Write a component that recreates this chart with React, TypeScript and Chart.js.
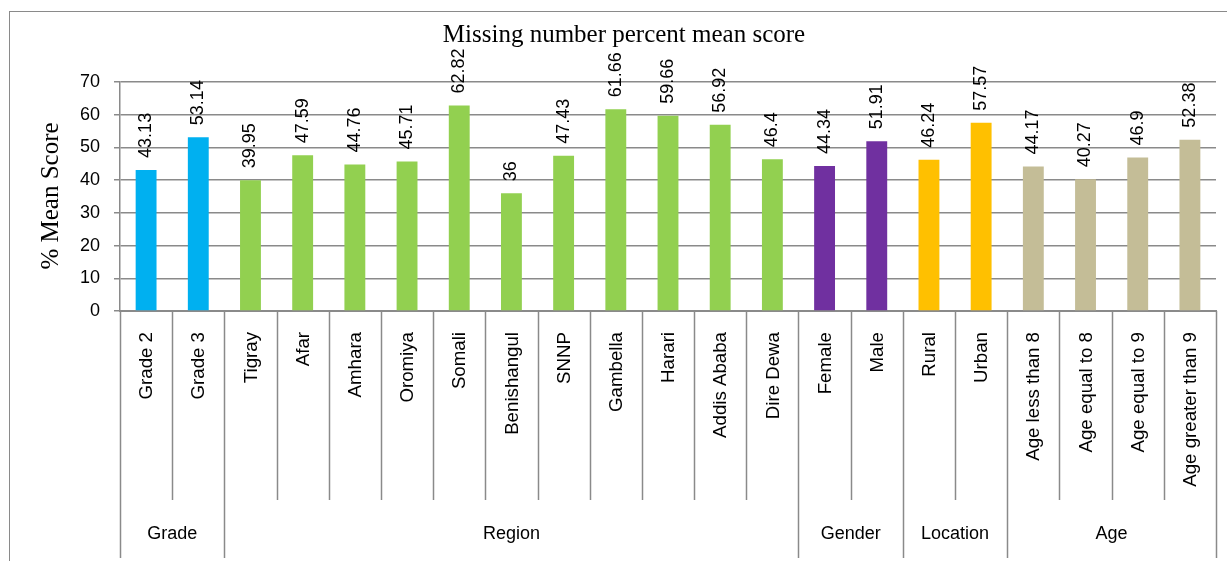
import React, { useEffect, useRef } from "react";
import { Chart, registerables } from "chart.js";

Chart.register(...registerables);

const categories = [
  "Grade 2", "Grade 3",
  "Tigray", "Afar", "Amhara", "Oromiya", "Somali", "Benishangul", "SNNP", "Gambella", "Harari", "Addis Ababa", "Dire Dewa",
  "Female", "Male",
  "Rural", "Urban",
  "Age less than 8", "Age equal to 8", "Age equal to 9", "Age greater than 9",
];
const values = [
  43.13, 53.14,
  39.95, 47.59, 44.76, 45.71, 62.82, 36, 47.43, 61.66, 59.66, 56.92, 46.4,
  44.34, 51.91,
  46.24, 57.57,
  44.17, 40.27, 46.9, 52.38,
];
const groupNames = ["Grade", "Region", "Gender", "Location", "Age"];
const groupSizes = [2, 11, 2, 2, 4];
const groupColors = ["#00B0F0", "#92D050", "#7030A0", "#FFC000", "#C4BD97"];
const yTicks = [0, 10, 20, 30, 40, 50, 60, 70];
const titleText = "Missing number percent mean score";
const yTitle = "% Mean Score";

const SANS = '"Liberation Sans", Arial, sans-serif';
const SERIF = '"Liberation Serif", "Times New Roman", serif';

const barColors: string[] = [];
groupSizes.forEach((n, gi) => {
  for (let k = 0; k < n; k++) barColors.push(groupColors[gi]);
});

const overlayPlugin = {
  id: "overlay",
  afterDraw(chart: any) {
    const ctx = chart.ctx as CanvasRenderingContext2D;
    const xs = chart.scales.x;
    const area = chart.chartArea;
    ctx.save();
    // outer border
    ctx.strokeStyle = "#8a8a8a";
    ctx.lineWidth = 1;
    ctx.strokeRect(9.5, 11.5, 1400, 700);

    // title
    ctx.fillStyle = "#000";
    ctx.font = `25px ${SERIF}`;
    ctx.textAlign = "center";
    ctx.textBaseline = "alphabetic";
    ctx.fillText(titleText, 624, 42);

    // y title
    ctx.save();
    ctx.translate(51, 196);
    ctx.rotate(-Math.PI / 2);
    ctx.textBaseline = "middle";
    ctx.fillText(yTitle, 0, 0);
    ctx.restore();

    // data labels
    const meta = chart.getDatasetMeta(0);
    ctx.font = `18px ${SANS}`;
    meta.data.forEach((bar: any, i: number) => {
      ctx.save();
      ctx.translate(bar.x, bar.y - 12);
      ctx.rotate(-Math.PI / 2);
      ctx.textAlign = "left";
      ctx.textBaseline = "middle";
      ctx.fillText(String(values[i]), 0, 0);
      ctx.restore();
    });

    // category labels
    ctx.font = `18.7px ${SANS}`;
    categories.forEach((c, i) => {
      const x = xs.getPixelForValue(i);
      ctx.save();
      ctx.translate(x + 1, 332);
      ctx.rotate(-Math.PI / 2);
      ctx.textAlign = "right";
      ctx.textBaseline = "middle";
      ctx.fillText(c, 0, 0);
      ctx.restore();
    });

    // separators
    const boundaries = new Set<number>();
    let acc = 0;
    boundaries.add(0);
    groupSizes.forEach((n) => {
      acc += n;
      boundaries.add(acc);
    });
    ctx.strokeStyle = "#8a8a8a";
    ctx.lineWidth = 1.5;
    for (let i = 0; i <= categories.length; i++) {
      const x =
        i < categories.length
          ? xs.getPixelForValue(i) - (xs.getPixelForValue(1) - xs.getPixelForValue(0)) / 2
          : area.right;
      const yEnd = boundaries.has(i) ? 558 : 500;
      ctx.beginPath();
      ctx.moveTo(Math.round(x) + 0.5, area.bottom);
      ctx.lineTo(Math.round(x) + 0.5, yEnd);
      ctx.stroke();
    }

    // group labels
    ctx.font = `18px ${SANS}`;
    ctx.fillStyle = "#000";
    ctx.textAlign = "center";
    ctx.textBaseline = "middle";
    let start = 0;
    groupSizes.forEach((n, gi) => {
      const x0 = xs.getPixelForValue(start);
      const x1 = xs.getPixelForValue(start + n - 1);
      ctx.fillText(groupNames[gi], (x0 + x1) / 2, 534);
      start += n;
    });
    ctx.restore();
  },
};

export default function App() {
  const ref = useRef<HTMLCanvasElement | null>(null);
  useEffect(() => {
    if (!ref.current) return;
    const chart = new Chart(ref.current, {
      type: "bar",
      data: {
        labels: categories,
        datasets: [
          {
            data: values,
            backgroundColor: barColors,
            borderWidth: 0,
            barPercentage: 0.4,
            categoryPercentage: 1,
          },
        ],
      },
      options: {
        animation: false,
        responsive: false,
        devicePixelRatio: 1,
        layout: { padding: { top: 82, right: 11, left: 0, bottom: 0 } },
        plugins: {
          legend: { display: false },
          title: { display: false },
          tooltip: { enabled: false },
        },
        scales: {
          x: {
            grid: { display: false },
            ticks: { display: false },
            border: { display: true, color: "#8a8a8a", width: 2 },
            afterFit: (s: any) => {
              s.height = 250;
            },
          },
          y: {
            min: 0,
            max: 70,
            afterBuildTicks: (s: any) => {
              s.ticks = yTicks.map((v) => ({ value: v }));
            },
            grid: { color: "#8a8a8a", lineWidth: 1.5, tickLength: 6 },
            border: { display: true, color: "#8a8a8a", width: 1.5 },
            ticks: {
              padding: 14,
              color: "#000",
              font: { family: SANS, size: 18 },
            },
            afterFit: (s: any) => {
              s.width = 120;
            },
          },
        },
      },
      plugins: [overlayPlugin],
    });
    return () => chart.destroy();
  }, []);
  return (
    <div style={{ position: "absolute", left: 0, top: 0, width: 1227, height: 561, background: "#fff" }}>
      <canvas ref={ref} width={1227} height={561} />
    </div>
  );
}
